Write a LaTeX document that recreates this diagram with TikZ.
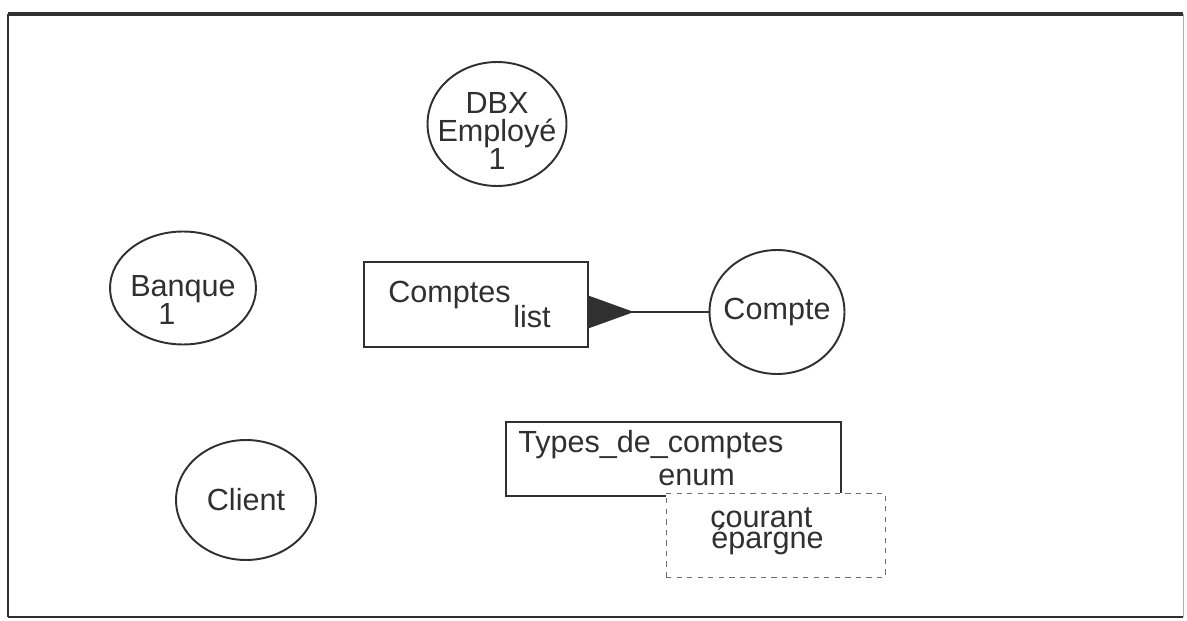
\documentclass[tikz,border=0pt]{standalone}
\usepackage{fontspec}
\setmainfont{Liberation Sans}
\usetikzlibrary{arrows.meta,shapes.geometric,positioning}

\definecolor{ink}{HTML}{303030}
\tikzset{
  entity/.style={ellipse,draw=ink,line width=1.1pt,inner sep=0pt},
  classbox/.style={rectangle,draw=ink,line width=1.1pt,inner sep=0pt,fill=white},
  valbox/.style={rectangle,draw=ink!70,dashed,line width=0.5pt,inner sep=0pt,fill=white},
  lbl/.style={font=\fontsize{17.4}{16.2}\selectfont,text=ink,inner sep=0pt,align=center},
}

\begin{document}
\begin{tikzpicture}[x=0.02cm,y=-0.02cm]
  \useasboundingbox (0,0) rectangle (1187,621);

  % frame
  \draw[ink,line width=2.2pt] (8,14) -- (1183,14);
  \draw[ink,line width=1.6pt] (8,14) -- (8,617);
  \draw[ink,line width=1.1pt] (8,617) -- (1183,617);
  \draw[ink!40,line width=0.5pt] (1183,14) -- (1183,617);

  % entities
  \node[entity,minimum width=2.78cm,minimum height=2.48cm,
        label={[lbl,yshift=-0.14cm]center:{DBX\\Employé\\1}}] (employe) at (497,124) {};
  \node[entity,minimum width=2.92cm,minimum height=2.26cm,
        label={[lbl,yshift=-0.24cm]center:{Banque\\\kern-1.05em1}}] (banque) at (183,288) {};
  \node[entity,minimum width=2.8cm,minimum height=2.4cm,
        label={[lbl]center:Client}] (client) at (246,500) {};
  \node[entity,minimum width=2.7cm,minimum height=2.48cm,
        label={[lbl]center:Compte}] (compte) at (777,312) {};

  % list
  \node[classbox,minimum width=4.48cm,minimum height=1.7cm] (comptes) at (476,304.5) {};
  \node[lbl,anchor=base west] (comptesname) at (388,303) {Comptes};
  \node[lbl,anchor=base west] (comptestype) at (513,328) {list};
  \coordinate (listend) at (comptes.east |- compte.west);
  \draw[ink,line width=1pt,{Triangle[reversed,length=0.9cm,width=0.64cm]}-]
    (listend) -- (compte.west);

  % enum
  \node[classbox,minimum width=6.7cm,minimum height=1.48cm] (types) at (673.5,459) {};
  \node[lbl,anchor=base west] (typesname) at (518,453) {Types\_de\_comptes};
  \node[lbl,anchor=base west] (typeskind) at (658,485) {enum};
  \node[valbox,minimum width=4.38cm,minimum height=1.68cm] (valeurs) at (775.5,535) {};
  \node[lbl,anchor=base west] (courant) at (710,527) {courant};
  \node[lbl,anchor=base west] (epargne) at (711,548) {épargne};
\end{tikzpicture}
\end{document}
